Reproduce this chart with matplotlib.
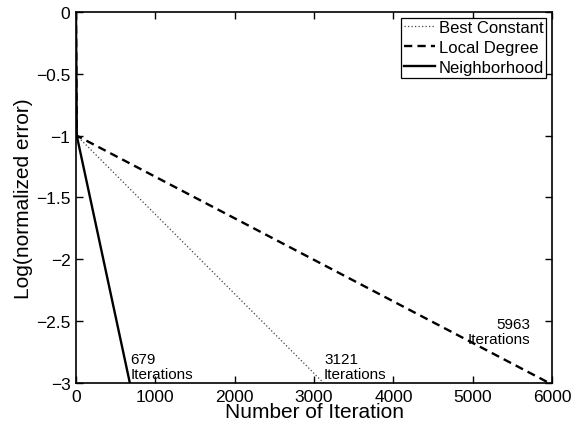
import numpy as np
import matplotlib.pyplot as plt

plt.rcParams['font.family'] = ['Liberation Sans', 'DejaVu Sans']

# iteration counts and log(normalized error) at the breakpoints
best_x = [0, 10, 3121]
best_y = [0, -1, -3]
local_x = [0, 10, 5963]
local_y = [0, -1, -3]
neigh_x = [0, 10, 679]
neigh_y = [0, -1, -3]

fig = plt.figure(figsize=(5.8, 4.31), dpi=100)
ax = fig.add_axes([0.131, 0.109, 0.821, 0.861])

ax.plot(best_x, best_y, color='0.25', linestyle=(0, (1, 1.8)), linewidth=0.9, label='Best Constant')
ax.plot(local_x, local_y, color='k', linestyle=(0, (3.5, 2.2)), linewidth=1.7, label='Local Degree')
ax.plot(neigh_x, neigh_y, color='k', linestyle='-', linewidth=1.7, label='Neighborhood')

ax.text(690, -2.985, '679\nIterations', fontsize=11, ha='left', va='bottom', linespacing=1.1)
ax.text(3125, -2.985, '3121\nIterations', fontsize=11, ha='left', va='bottom', linespacing=1.1)
ax.text(5720, -2.70, '5963\nIterations', fontsize=11, ha='right', va='bottom',
        multialignment='right', linespacing=1.1)

ax.set_xlim(0, 6000)
ax.set_ylim(-3, 0)
ax.set_xticks(np.arange(0, 6001, 1000))
ax.set_yticks(np.arange(-3, 0.01, 0.5))
ax.set_yticklabels(['\u22123', '\u22122.5', '\u22122', '\u22121.5', '\u22121', '\u22120.5', '0'])
ax.tick_params(direction='in', top=True, right=True, labelsize=12.5, length=5, width=1.0, pad=4)
for s in ax.spines.values():
    s.set_linewidth(1.2)

ax.set_xlabel('Number of Iteration', fontsize=15, labelpad=-1)
ax.set_ylabel('Log(normalized error)', fontsize=15, labelpad=2)

leg = ax.legend(loc='upper right', fontsize=12, fancybox=False, edgecolor='k',
                framealpha=1, borderpad=0.15, handlelength=1.9, handletextpad=0.2,
                labelspacing=0.3, borderaxespad=0.35)
leg.get_frame().set_linewidth(0.9)

fig.savefig('out.png', dpi=100)
